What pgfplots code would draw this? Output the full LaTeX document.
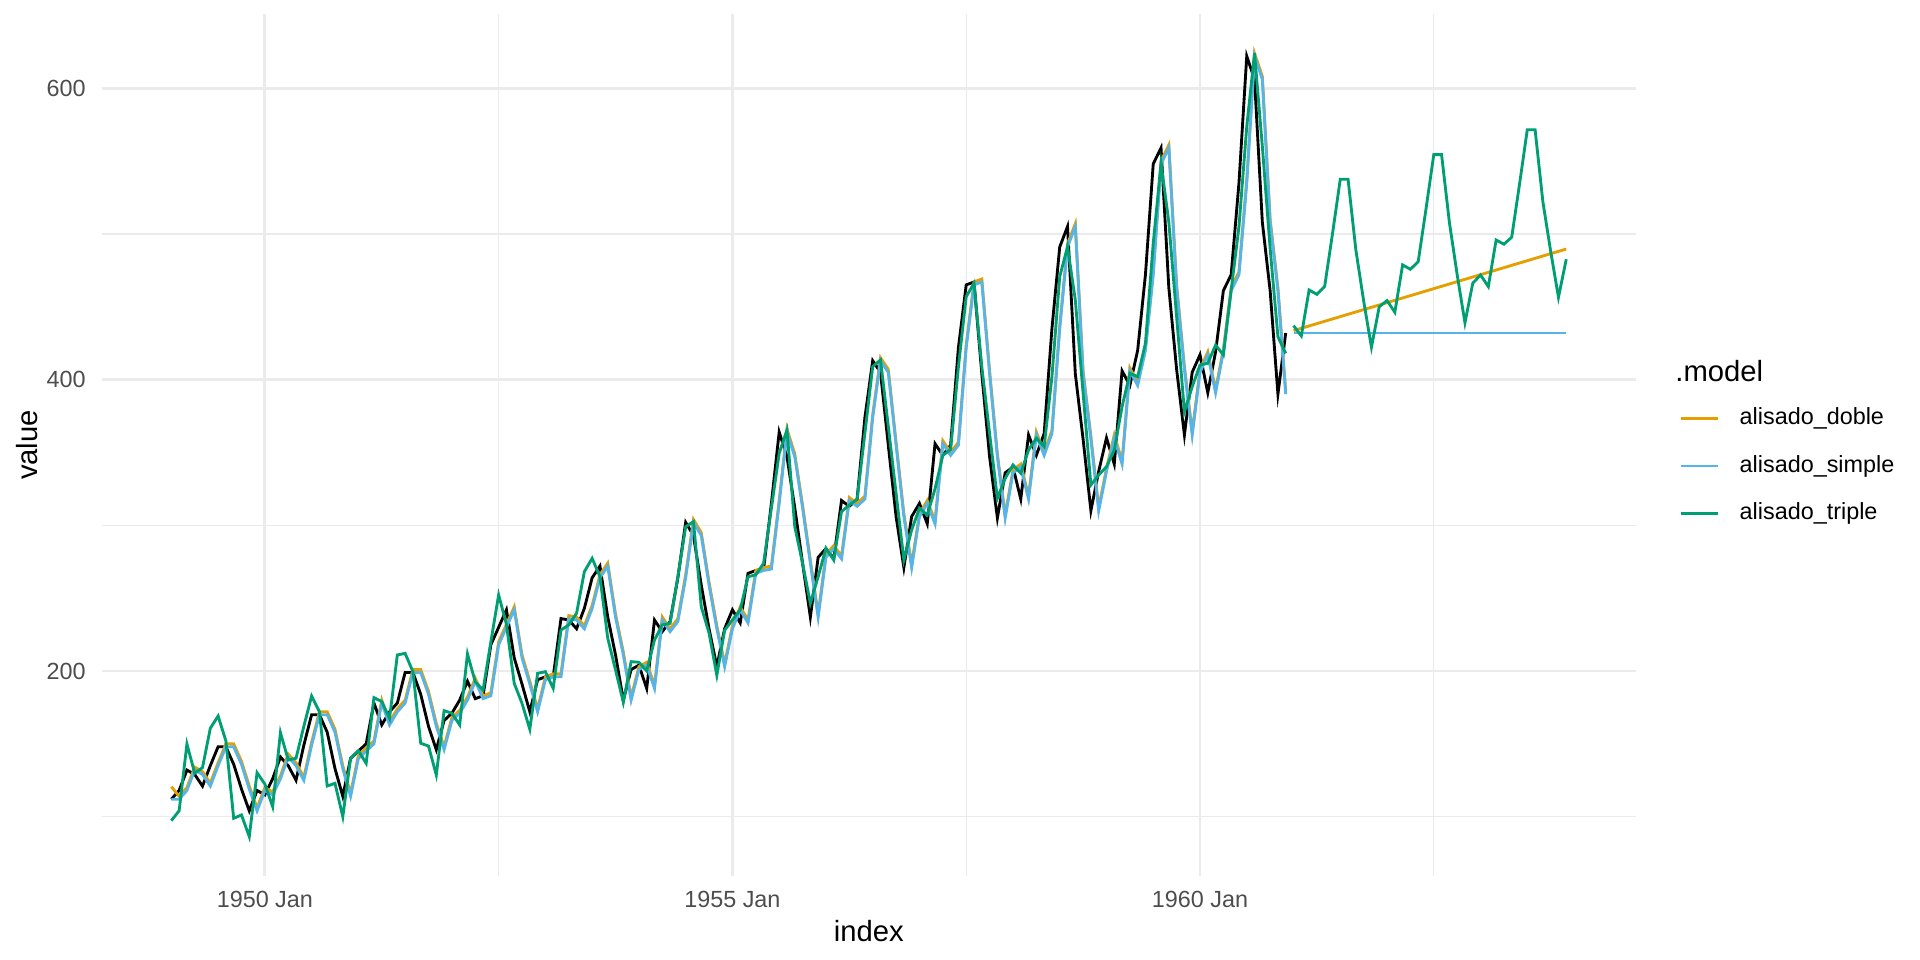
\documentclass[border=0pt]{standalone}
\usepackage{pgfplots}
\pgfplotsset{compat=1.18}
\usepackage{pgfplotstable}
\usepackage{fontspec}
\setmainfont{Liberation Sans}
\definecolor{cdoble}{HTML}{E69F00}
\definecolor{csimple}{HTML}{56B4E9}
\definecolor{ctriple}{HTML}{009E73}
\definecolor{gridc}{HTML}{EBEBEB}
\definecolor{tickc}{HTML}{4D4D4D}

% m = months since 1949 Jan; y = data; s = simple fitted; d = double fitted; t = triple fitted
\pgfplotstableread{
m y s d t
0 112 112 120.6 97.3
1 118 112 114 104.1
2 132 118 120 149.9
3 129 132 134 129.8
4 121 129 131 133.7
5 135 121 123 160.7
6 148 135 137 169.1
7 148 148 150 152
8 136 148 150 98.9
9 119 136 138 101.2
10 104 119 121 86.3
11 118 104 106 130.2
12 115 118 120 122.4
13 126 115 117 106.9
14 141 126 128 157.7
15 135 141 143 138.9
16 125 135 137 140.1
17 149 125 127 162
18 170 149 151 182.8
19 170 170 172 172.1
20 158 170 172 121.1
21 133 158 160 122.9
22 114 133 135 100
23 140 114 116 140.1
24 145 140 142 145.3
25 150 145 147 136.6
26 178 150 152 181.7
27 163 178 180 179
28 172 163 165 167.5
29 178 172 174 211
30 199 178 180 212.1
31 199 199 201 199.5
32 184 199 201 150.4
33 162 184 186 148.5
34 146 162 164 128.6
35 166 146 148 172.8
36 171 166 168 171
37 180 171 173 163
38 193 180 182 211.7
39 181 193 195 192.5
40 183 181 183 187
41 218 183 185 220
42 230 218 220 252.2
43 242 230 232 232
44 209 242 244 191.5
45 191 209 211 177.8
46 172 191 193 160
47 194 172 174 198.4
48 196 194 196 199.5
49 196 196 198 188.1
50 236 196 198 228.1
51 235 236 238 231.6
52 229 235 237 239.6
53 243 229 231 268.2
54 264 243 245 277.3
55 272 264 266 264.7
56 237 272 274 222.5
57 211 237 239 200.7
58 180 211 213 178.5
59 201 180 182 206.4
60 204 201 203 206
61 188 204 206 200
62 235 188 190 221.3
63 227 235 237 231.6
64 234 227 229 232.7
65 264 234 236 264.7
66 302 264 266 299
67 293 302 304 302.5
68 259 293 295 244.1
69 229 259 261 226
70 203 229 231 197
71 229 203 205 228
72 242 229 231 235
73 233 242 244 242
74 267 233 235 264.7
75 269 267 269 266
76 270 269 271 273.9
77 315 270 272 311.7
78 364 315 317 349.4
79 347 364 366 365.4
80 312 347 349 299
81 274 312 314 273.9
82 237 274 276 246.4
83 278 237 239 264.7
84 284 278 280 284.2
85 277 284 286 276.2
86 317 277 279 309.4
87 313 317 319 313.9
88 318 313 315 317.8
89 374 318 320 363.3
90 413 374 376 408.9
91 405 413 415 413.5
92 355 405 407 368
93 306 355 357 322
94 271 306 308 276.2
95 306 271 273 296.8
96 315 306 308 311.7
97 301 315 317 307.1
98 356 301 303 325
99 348 356 358 348
100 355 348 350 352
101 422 355 357 408.9
102 465 422 424 456.9
103 467 465 467 466.1
104 404 467 469 408.9
105 347 404 406 363
106 305 347 349 318.5
107 336 305 307 332.2
108 340 336 338 341.4
109 318 340 342 335.7
110 362 318 320 351.7
111 348 362 364 359.7
112 363 348 350 354
113 435 363 365 402
114 491 435 437 470.6
115 505 491 493 491.2
116 404 505 507 454.6
117 359 404 406 390.6
118 310 359 361 327.7
119 337 310 312 334.5
120 360 337 339 340.2
121 342 360 362 351.7
122 406 342 344 381.4
123 396 406 408 404.3
124 420 396 398 402
125 472 420 422 424.9
126 548 472 474 493.5
127 559 548 550 548.5
128 463 559 561 508
129 407 463 465 443.2
130 362 407 409 378
131 405 362 364 395.1
132 417 405 407 410
133 391 417 419 411.2
134 419 391 393 423.7
135 461 419 421 416.9
136 472 461 463 461.5
137 535 472 474 504.9
138 622 535 537 573.6
139 606 622 624 624
140 508 606 608 560
141 461 508 510 490
142 390 461 463 429.4
143 432 390 392 418
}\fitted

% triple forecast, 1961 Jan - 1963 Dec
\pgfplotstableread{
m t
144 437
145 430
146 461.5
147 458.5
148 464
149 500
150 537.5
151 537.5
152 489
153 454
154 422.2
155 450
156 454.2
157 446.2
158 478.7
159 475.7
160 480.9
161 517
162 554.4
163 554.4
164 508
165 472
166 439
167 466.1
168 471.8
169 463.8
170 495.8
171 492.9
172 497.7
173 534
174 571.5
175 571.5
176 522
177 488
178 456.5
179 482.6
}\fctriple

\begin{document}
\begin{tikzpicture}
\useasboundingbox (0,0) rectangle (720bp,360bp);
\begin{axis}[
  at={(38.1bp,31.5bp)}, anchor=south west,
  scale only axis, width=575.4bp, height=323.25bp,
  xmin=-8.95, xmax=187.95, ymin=59.3, ymax=650.9,
  xtick={12,72,132}, xticklabels={1950 Jan,1955 Jan,1960 Jan},
  ytick={200,400,600},
  minor xtick={42,102,162}, minor ytick={100,300,500},
  grid=both,
  major grid style={draw=gridc, line width=1.07bp},
  minor grid style={draw=gridc, line width=0.53bp},
  axis line style={draw=none},
  major tick length=0pt, minor tick length=0pt,
  tick style={draw=none},
  /pgf/number format/assume math mode=true,
  ticklabel style={font=\fontsize{8.8}{10.5}\selectfont, text=tickc},
  xticklabel style={yshift=-2.3bp},
  yticklabel style={xshift=-2.5bp},
  xlabel={index}, ylabel={value},
  label style={font=\fontsize{11}{13}\selectfont},
  xlabel style={at={(axis description cs:0.5,-0.0643)}, anchor=center},
  ylabel style={at={(axis description cs:-0.0487,0.5)}, anchor=center},
  legend style={at={(axis description cs:1.0282,0.4756)}, anchor=west,
    draw=none, fill=none, inner sep=0pt, outer sep=0pt, row sep=9.5bp,
    font=\fontsize{8.8}{10.5}\selectfont,
    nodes={inner sep=0pt, text height=6.4pt, text depth=1.9pt},
    /tikz/every odd column/.append style={column sep=7.5bp}},
  legend cell align=left,
  legend image code/.code={\draw[#1, line width=1.07bp] (0bp,0bp) -- (14.1bp,0bp);},
  every axis plot/.append style={line width=1.07bp},
]
\addplot[black, forget plot] table[x=m, y=y]{\fitted};
\addplot[cdoble] table[x=m, y=d]{\fitted};
\addlegendentry{alisado\_doble}
\addplot[csimple] table[x=m, y=s]{\fitted};
\addlegendentry{alisado\_simple}
\addplot[ctriple] table[x=m, y=t]{\fitted};
\addlegendentry{alisado\_triple}
\addplot[cdoble, forget plot] coordinates {(144,433.6) (179,489.6)};
\addplot[csimple, forget plot] coordinates {(144,432) (179,432)};
\addplot[ctriple, forget plot] table[x=m, y=t]{\fctriple};
\end{axis}
\node[anchor=west, inner sep=0pt, font=\fontsize{11}{13}\selectfont] at (628.1bp,221bp) {.model};
\end{tikzpicture}
\end{document}
